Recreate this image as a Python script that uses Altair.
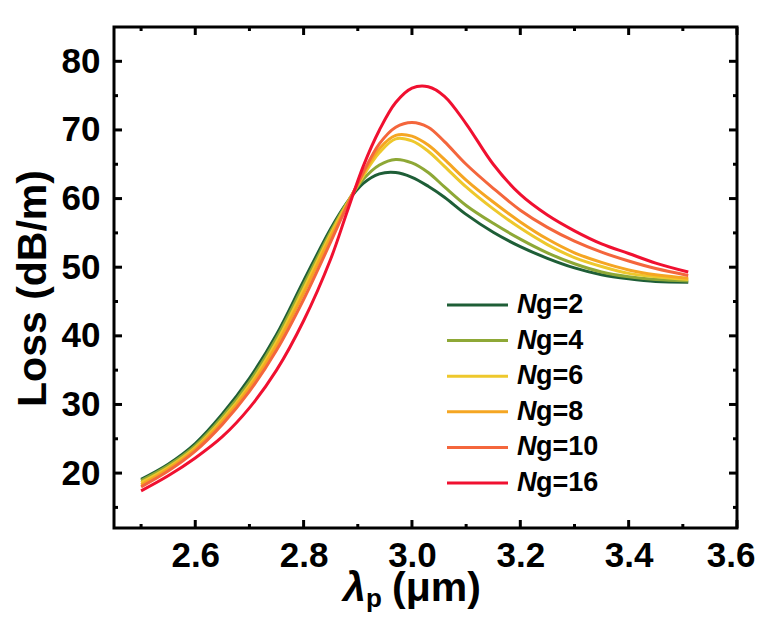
import altair as alt
import pandas as pd

# ---- data ----
wavelength = [2.50, 2.55, 2.60, 2.65, 2.70, 2.75, 2.80, 2.85, 2.88, 2.91, 2.94, 2.97,
              3.00, 3.03, 3.06, 3.10, 3.15, 3.20, 3.25, 3.30, 3.35, 3.40, 3.45, 3.51]
loss_ng2 = [19.1, 21.3, 24.3, 28.6, 33.8, 40.2, 48.0, 55.6, 59.4, 62.2, 63.6, 63.8,
            63.1, 61.8, 60.2, 57.7, 55.1, 53.0, 51.3, 49.9, 48.9, 48.3, 47.9, 47.8]
loss_ng4 = [18.9, 21.1, 24.0, 28.2, 33.3, 39.7, 47.4, 55.2, 59.4, 62.8, 64.9, 65.7,
            65.2, 63.8, 61.7, 59.0, 56.4, 54.1, 52.1, 50.5, 49.3, 48.6, 48.2, 48.0]
loss_ng6 = [18.6, 20.8, 23.7, 27.8, 32.8, 39.1, 46.8, 54.8, 59.2, 63.3, 66.7, 68.7,
            68.4, 66.9, 64.7, 61.7, 58.5, 55.7, 53.3, 51.4, 50.1, 49.1, 48.6, 48.2]
loss_ng8 = [18.3, 20.6, 23.5, 27.5, 32.4, 38.6, 46.2, 54.4, 59.0, 63.6, 67.3, 69.2,
            69.1, 67.8, 65.7, 62.7, 59.5, 56.6, 54.1, 52.1, 50.7, 49.6, 48.9, 48.4]
loss_ng10 = [18.0, 20.3, 23.2, 27.1, 31.9, 37.9, 45.3, 53.7, 58.9, 63.8, 68.0, 70.4,
             71.1, 70.4, 68.3, 65.0, 61.5, 58.3, 55.8, 53.8, 52.2, 50.9, 49.8, 48.8]
loss_ng16 = [17.4, 19.6, 22.2, 25.3, 29.5, 35.0, 42.2, 51.2, 58.0, 64.7, 70.0, 74.0,
             76.1, 76.3, 74.9, 70.9, 65.0, 60.6, 57.6, 55.3, 53.4, 52.0, 50.6, 49.3]

ng_values = ["2", "4", "6", "8", "10", "16"]
series_colors = ["#1e5e37", "#8ea836", "#eec82c", "#f5a623", "#f4663c", "#f01030"]

x_major = [2.6, 2.8, 3.0, 3.2, 3.4, 3.6]
x_minor = [2.5, 2.7, 2.9, 3.1, 3.3, 3.5]
y_major = [20, 30, 40, 50, 60, 70, 80]
y_minor = [15, 25, 35, 45, 55, 65, 75]

# ---- layout ----
W, H = 623, 501
FONT = "Liberation Sans"
xs = alt.Scale(domain=[2.45, 3.6], nice=False, zero=False)
ys = alt.Scale(domain=[12, 85], nice=False, zero=False)

x_axis = alt.Axis(values=x_major, format=".1f", title=None, labelPadding=10,
                  labelFlush=True, labelFlushOffset=18, labelOverlap=False)
y_axis = alt.Axis(values=y_major, format="d", title="Loss (dB/m)", labelPadding=14,
                  titleX=-69, titleY=261, titleAngle=270, titleAlign="center",
                  titleBaseline="alphabetic", labelOverlap=False)

def X():
    return alt.X("x:Q", scale=xs, axis=x_axis)

def Y():
    return alt.Y("y:Q", scale=ys, axis=y_axis)

series = [loss_ng2, loss_ng4, loss_ng6, loss_ng8, loss_ng10, loss_ng16]
rows = []
for ng, vals in zip(ng_values, series):
    for xv, yv in zip(wavelength, vals):
        rows.append({"x": xv, "y": yv, "ng": ng})
df = pd.DataFrame(rows)

color = alt.Color("ng:N", scale=alt.Scale(domain=ng_values, range=series_colors), legend=None)

lines = alt.Chart(df).mark_line(strokeWidth=3, interpolate="catmull-rom", clip=True).encode(
    x=X(), y=Y(), color=color, detail="ng:N")

def xticks(vals, length, top):
    d = pd.DataFrame({"x": vals})
    y1, y2 = (0, length) if top else (H, H - length)
    return alt.Chart(d).mark_rule(strokeWidth=3, color="black").encode(
        x=X(), y=alt.value(y1), y2=alt.value(y2))

def yticks(vals, length, right):
    d = pd.DataFrame({"y": vals})
    x1, x2 = (W, W - length) if right else (0, length)
    return alt.Chart(d).mark_rule(strokeWidth=3, color="black").encode(
        y=Y(), x=alt.value(x1), x2=alt.value(x2))

ticks = [xticks(x_major, 8, False), xticks(x_major, 8, True),
         xticks(x_minor, 4, False), xticks(x_minor, 4, True),
         yticks(y_major, 8, False), yticks(y_major, 8, True),
         yticks(y_minor, 4, False), yticks(y_minor, 4, True)]

# ---- legend (italic N + "g=..") ----
leg = pd.DataFrame({"ng": ng_values, "idx": list(range(len(ng_values)))})
leg["lbl"] = "g=" + leg["ng"]
leg_base = alt.Chart(leg).transform_calculate(py="278 + datum.idx * 35.6")
leg_lines = leg_base.mark_rule(strokeWidth=3).encode(
    y=alt.Y("py:Q", scale=None), x=alt.value(333), x2=alt.value(394), color=color)
leg_n = leg_base.mark_text(font=FONT, fontSize=27, fontWeight="bold", fontStyle="italic",
                           align="left", baseline="middle", color="black").encode(
    y=alt.Y("py:Q", scale=None), x=alt.value(403), text=alt.value("N"))
leg_txt = leg_base.mark_text(font=FONT, fontSize=27, fontWeight="bold",
                             align="left", baseline="middle", color="black").encode(
    y=alt.Y("py:Q", scale=None), x=alt.value(422), text="lbl:N")

# ---- x title: λp (μm) ----
tdf = pd.DataFrame({"t": [0]})
t_lam = alt.Chart(tdf).mark_text(font=FONT, fontSize=41, fontWeight="bold", fontStyle="italic",
                                 align="left", baseline="alphabetic", color="black").encode(
    x=alt.value(229), y=alt.value(574), text=alt.value("λ"))
t_p = alt.Chart(tdf).mark_text(font=FONT, fontSize=26, fontWeight="bold",
                               align="left", baseline="alphabetic", color="black").encode(
    x=alt.value(252), y=alt.value(580), text=alt.value("p"))
t_um = alt.Chart(tdf).mark_text(font=FONT, fontSize=41, fontWeight="bold",
                                align="left", baseline="alphabetic", color="black").encode(
    x=alt.value(278), y=alt.value(574), text=alt.value("(μm)"))

chart = alt.layer(lines, *ticks, leg_lines, leg_n, leg_txt, t_lam, t_p, t_um).properties(
    width=W, height=H,
    background="white",
    autosize=alt.AutoSizeParams(type="none"),
    padding={"left": 106, "top": 19, "right": 18, "bottom": 100},
).configure_view(stroke="black", strokeWidth=3).configure_axis(
    labelFont=FONT, labelFontWeight="bold", labelFontSize=35, labelColor="black",
    titleFont=FONT, titleFontWeight="bold", titleFontSize=41, titleColor="black",
    domain=False, ticks=False, tickSize=0, grid=False,
)

chart.save("out.html", embed_options={"renderer": "svg", "actions": False})
